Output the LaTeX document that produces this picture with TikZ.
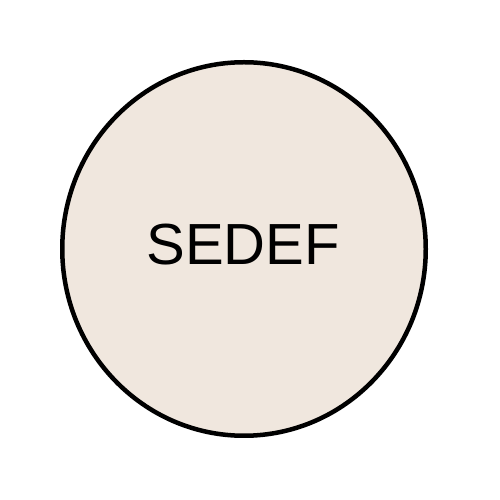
\documentclass[tikz,border=0pt]{standalone}
\usepackage{fontspec}
\setmainfont{Liberation Sans}
\usetikzlibrary{shapes.geometric,positioning}
\definecolor{sand}{RGB}{240,231,222}
\tikzset{bubble/.style={ellipse, draw=black, line width=4.5pt, fill=sand, minimum width=363.5pt, minimum height=373.5pt, inner sep=0pt}, word/.style={inner sep=0pt, font=\fontsize{58}{70}\selectfont, text=black}}

\begin{document}
\begin{tikzpicture}[x=1pt,y=1pt]
    \useasboundingbox (0,0) rectangle (500,500);
    \node[bubble] (B1) at (244,251) {};
    \node[word] (W1) at (243,255.5) {SEDEF};
\end{tikzpicture}
\end{document}
